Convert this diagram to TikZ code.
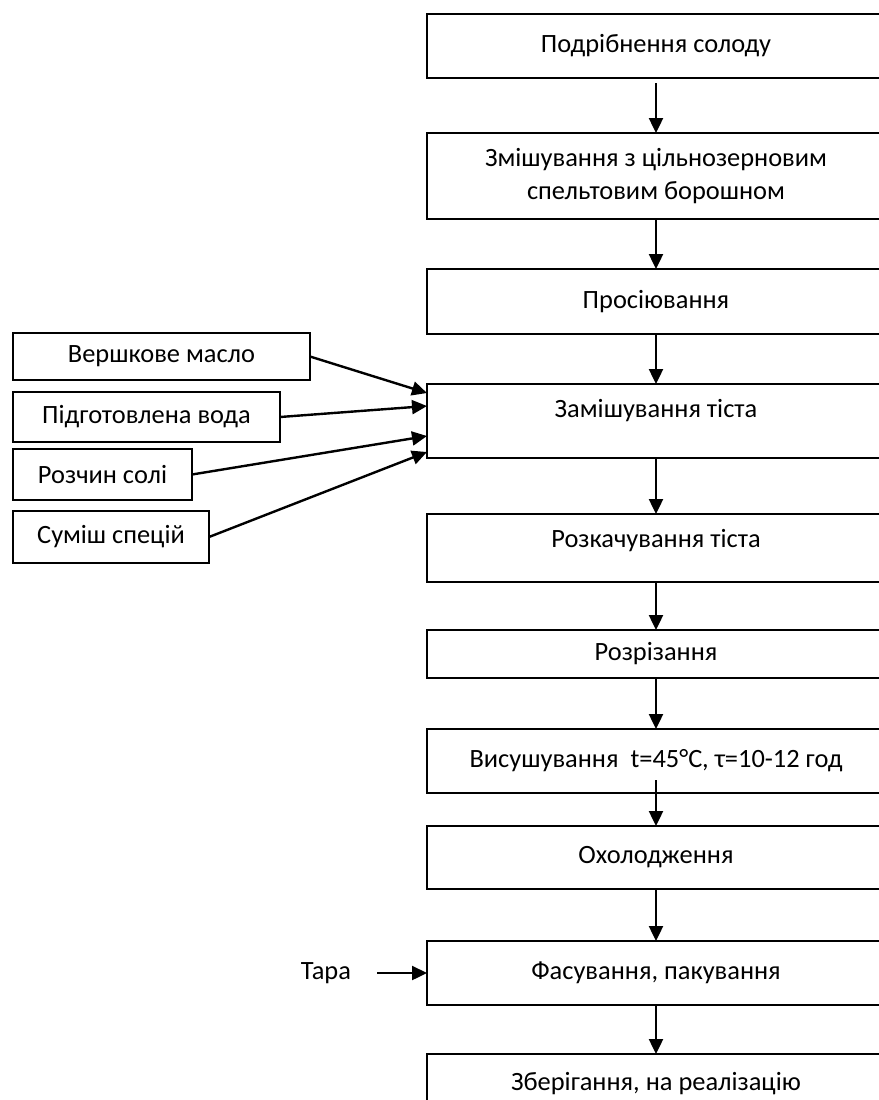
\documentclass[tikz,border=0pt]{standalone}
\usepackage{fontspec}
\setmainfont{Carlito}
\usetikzlibrary{positioning,arrows.meta}

\begin{document}
\begin{tikzpicture}[
process/.style={rectangle, draw=black, line width=0.6pt, outer sep=0pt, minimum width=229pt, align=center, font=\fontsize{13.2}{16.5}\selectfont},
input/.style={rectangle, draw=black, line width=0.6pt, outer sep=0pt, anchor=north west, font=\fontsize{13.2}{16.5}\selectfont},
flow/.style={line width=1.2pt, -{Triangle[length=7.5pt, width=7pt]}},
]
\useasboundingbox (0,0) rectangle (439.5pt,-550pt);
\clip (0,0) rectangle (439.5pt,-550pt);

\node[process, minimum height=32pt, anchor=north] (B1) at (328pt,-7pt) {Подрібнення солоду};
\node[process, minimum height=43pt, below=27.5pt of B1] (B2) {Змішування з цільнозерновим\\спельтовим борошном};
\node[process, minimum height=32.5pt, below=25pt of B2] (B3) {Просіювання};
\node[process, minimum height=37pt, text depth=12.5pt, below=25pt of B3] (B4) {Замішування тіста};
\node[process, minimum height=34pt, text depth=9.5pt, below=28pt of B4] (B5) {Розкачування тіста};
\node[process, minimum height=24pt, below=24pt of B5] (B6) {Розрізання};
\node[process, minimum height=32pt, below=25.5pt of B6] (B7) {Висушування\ \ t=45°C, τ=10-12 год};
\node[process, minimum height=31.5pt, below=16.5pt of B7] (B8) {Охолодження};
\node[process, minimum height=32pt, below=26pt of B8] (B9) {Фасування, пакування};
\node[process, minimum height=30pt, below=24.5pt of B9] (B10) {Зберігання, на реалізацію};

\node[input, minimum width=148.5pt, minimum height=23.5pt] (L1) at (6.5pt,-166.5pt) {Вершкове масло};
\node[input, minimum width=133.5pt, minimum height=25pt, below=6pt of L1.south west, anchor=north west] (L2) {Підготовлена вода};
\node[input, minimum width=89.5pt, minimum height=25.5pt, below=3.5pt of L2.south west, anchor=north west] (L3) {Розчин солі};
\node[input, minimum width=98pt, minimum height=26pt, below=5.5pt of L3.south west, anchor=north west] (L4) {Суміш спецій};

\node[font=\fontsize{13.2}{16.5}\selectfont, left=34.5pt of B9] (tara) {Тара};

\draw[flow, shorten <=2.5pt] (B1) -- (B2);
\draw[flow] (B2) -- (B3);
\draw[flow] (B3) -- (B4);
\draw[flow] (B4) -- (B5);
\draw[flow] (B5) -- (B6);
\draw[flow] (B6) -- (B7);
\draw[flow] ([yshift=6.5pt]B7.south) -- (B8);
\draw[flow] (B8) -- (B9);
\draw[flow] (B9) -- (B10);

\draw[flow] (L1.east) -- ([yshift=14pt]B4.west);
\draw[flow] (L2.east) -- ([yshift=7.5pt]B4.west);
\draw[flow] (L3.east) -- ([yshift=-7.5pt]B4.west);
\draw[flow] (L4.east) -- ([yshift=-15.5pt]B4.west);
\draw[flow, shorten <=9.5pt] (tara.east) -- (B9.west);
\end{tikzpicture}
\end{document}
